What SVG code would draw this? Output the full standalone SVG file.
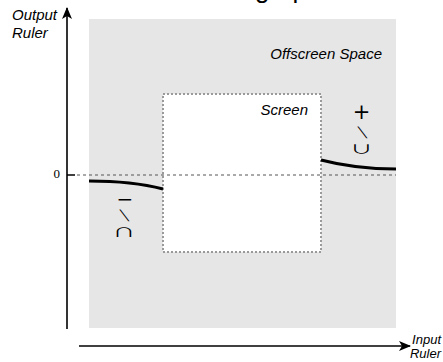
<svg xmlns="http://www.w3.org/2000/svg" width="443" height="362" viewBox="0 0 443 362">
<style>
.lbl{font-family:"Liberation Sans",Arial,sans-serif;font-style:italic;fill:#000}
.sym{font-family:"DejaVu Sans",sans-serif;fill:#000;text-anchor:middle}
.cup{font-family:"Noto Sans CJK SC",sans-serif;fill:#000;text-anchor:middle;font-size:16px}
.axis{stroke:#000;stroke-width:1.6;fill:none}
.curve{stroke:#000;stroke-width:3;fill:none;stroke-linecap:butt}
</style>
<defs>
<marker id="arr" viewBox="0 0 12 10" refX="11" refY="5" markerWidth="12" markerHeight="10" markerUnits="userSpaceOnUse" orient="auto">
<path d="M0,0 L12,5 L0,10 L3,5 z" fill="#000"/>
</marker>
</defs>
<text x="255" y="-2.5" style="font-family:'Liberation Sans',Arial,sans-serif;font-size:26px">graph</text>
<g id="offscreen">
<rect x="89" y="19" width="307" height="309" fill="#e6e6e6"/>
<text class="lbl" x="382" y="58.5" text-anchor="end" font-size="15">Offscreen Space</text>
</g>
<g id="screen">
<rect x="163" y="94" width="158" height="158" fill="#fff" stroke="#9a9a9a" stroke-width="2" stroke-dasharray="2,2"/>
<text class="lbl" x="308" y="114.5" text-anchor="end" font-size="15">Screen</text>
</g>
<g id="connectors">
<line class="axis" x1="67" y1="329" x2="67" y2="8" marker-end="url(#arr)"/>
<line class="axis" x1="79" y1="346" x2="410" y2="346" marker-end="url(#arr)"/>
<line x1="67" y1="175" x2="75" y2="175" stroke="#000" stroke-width="1.5"/>
<line x1="77" y1="175" x2="396" y2="175" stroke="#555" stroke-width="1" stroke-dasharray="3,3"/>
<path class="curve" d="M89,181 C115,181 140,183 163,189"/>
<path class="curve" d="M321,160 C340,165 365,169 396,169"/>
</g>
<g id="labels">
<text class="lbl" x="12" y="20" font-size="15">Output</text>
<text class="lbl" x="12" y="38" font-size="15">Ruler</text>
<text class="lbl" x="441" y="344" text-anchor="end" font-size="13">Input</text>
<text class="lbl" x="441" y="358" text-anchor="end" font-size="13">Ruler</text>
<text x="60" y="178.3" text-anchor="end" style="font-family:'Liberation Serif','Times New Roman',serif;font-size:13px">0</text>
</g>
<g id="neg-label">
<text class="sym" x="125" y="206" font-size="20">−</text>
<text class="sym" x="0" y="0" font-size="14.5" transform="translate(126.5,219.5) skewX(24)">\</text>
<text class="cup" x="0" y="0" transform="translate(124,237) scale(1.4,0.75)">∩</text>
</g>
<g id="pos-label">
<text class="sym" x="361.5" y="119" font-size="21">+</text>
<text class="sym" x="0" y="0" font-size="14.5" transform="translate(364.5,137) skewX(24)">\</text>
<text class="cup" x="0" y="0" transform="translate(361.5,154) scale(1.4,0.75)">∪</text>
</g>
</svg>
